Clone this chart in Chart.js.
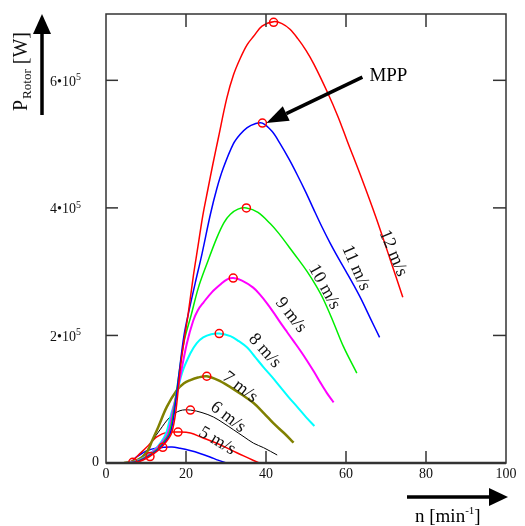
<!DOCTYPE html>
<html>
<head>
<meta charset="utf-8">
<script src="https://cdn.jsdelivr.net/npm/chart.js@4.4.0/dist/chart.umd.min.js"></script>
<style>
  html, body { margin: 0; padding: 0; background: #fff; }
  #wrap { width: 525px; height: 526px; }
</style>
</head>
<body>
<div id="wrap"><canvas id="chart" width="525" height="526"></canvas></div>
<script>
// rotor power over rotor speed, one curve per wind speed
// pairs are [n in 1/min, P in kW]
const curve12 = [[5.6,0],[8.1,2],[10.6,9],[13.1,20],[14.9,32],[16.4,47],[17.5,83],[18.6,150],[19.6,195],[20.5,232],[21.9,296],[23,340],[24.2,388],[25.5,430],[26.7,468],[28.1,510],[30.2,572],[31.9,609],[33.6,635],[35.3,656],[36.9,669],[39,685],[41.9,692],[44,689],[46,680],[48,665],[50,647],[52,625],[55.3,582],[58,543],[60.3,505],[64,445],[67.5,385],[71,320],[74.2,260]];
const curve11 = [[5.3,0],[7.8,2],[10.3,9],[12.8,20],[14.6,32],[16.1,47],[17.2,85],[18.3,142],[19.5,200],[20.8,240],[22.3,282],[24,328],[26.1,390],[27.7,430],[29.3,462],[31.8,500],[33.5,515],[35.3,526],[37.3,532],[39.1,533],[41.5,520],[43.6,500],[45.8,476],[47.8,452],[50,424],[51.9,398],[54,370],[56.1,344],[58.2,320],[60.3,297],[62,278],[63.7,258],[66,228],[68.4,197]];
const curve10 = [[5,0],[7.5,2],[10,9],[12.5,20],[14.3,32],[15.8,47],[17,85],[18.2,138],[19.5,190],[21.3,232],[23.1,275],[25.2,312],[27.7,353],[29.5,377],[31.1,390],[33,398],[35.1,400],[38,393],[41.1,375],[43.2,360],[45.5,341],[48,320],[50.3,300],[52.5,278],[54.4,256],[56.9,220],[59.4,182],[62.7,141]];
const curve9 = [[4.8,0],[7.3,2],[9.8,9],[12.2,20],[14,32],[15.5,47],[16.6,78],[17.5,105],[18.5,134],[20.2,187],[21.8,223],[23,240],[24.4,252],[26.5,268],[28.6,280],[30.3,288],[31.8,290],[34,286],[36.8,275],[38.5,264],[40.3,250],[42,235],[43.6,220],[45.3,205],[46.9,191],[48.6,176],[50.3,160],[52,143],[53.6,126],[55.2,110],[56.9,95]];
const curve8 = [[4.6,0],[7.1,2],[9.6,9],[12,20],[13.7,32],[15.1,48],[16.2,75],[17.3,98],[19,141],[21.1,172],[22.7,188],[24.3,197],[26.3,202],[28.3,203],[31.1,199],[33.2,191],[35.3,181],[37.3,166],[39.4,150],[41.5,135],[43.6,119],[45.7,103],[47.8,88],[50,72],[52.1,58]];
const curve7 = [[4.5,0],[7,3],[9,9],[10.5,20],[11.4,33],[13.1,57],[15.2,88],[17.7,114],[19.5,125],[21.1,130],[23,134],[25.2,136],[28,130],[31.1,119],[34,107],[36.9,94],[39.5,78],[41.9,62],[44.5,47],[46.9,32]];
const curve6 = [[4.3,0],[7,3],[9,10],[10.5,22],[11.4,33],[13.5,52],[16,72],[18.5,82],[21.1,83],[24,79],[26.9,72],[29.5,62],[31.9,52],[34.5,41],[36.9,31],[39.4,24],[42.8,12.5]];
const curve5 = [[4.5,0],[6.5,3],[8.1,12.5],[10.2,25],[11.5,34],[12.7,41],[15.2,48],[18,48.5],[21.1,47],[24,40],[26.9,33],[29.8,25],[32.7,16],[35.5,8],[38.3,0]];
const curve4 = [[5,0],[6.5,3],[7.5,9],[9,15],[10.5,20],[12.7,23.5],[14.2,24.5],[16.5,25],[18.5,23],[21,19.5],[23.5,15],[26,9.5],[28,4.5],[30,0]];

// maximum power points
const mppN = [6.7, 11, 14.2, 18, 21.1, 25.2, 28.3, 31.8, 35.1, 39.1, 41.9];
const mppP = [1, 10, 24.5, 48.5, 83, 136, 203, 290, 400, 533, 691];

const xTicks = [0, 20, 40, 60, 80, 100];
const yTicks = [0, 200, 400, 600];

const curves = [
  { data: curve12, color: '#ff0000', width: 1.5 },
  { data: curve11, color: '#0000ff', width: 1.5 },
  { data: curve10, color: '#00ee00', width: 1.5 },
  { data: curve9, color: '#ff00ff', width: 2 },
  { data: curve8, color: '#00ffff', width: 2 },
  { data: curve7, color: '#808000', width: 2.5 },
  { data: curve6, color: '#000000', width: 1 },
  { data: curve5, color: '#ff0000', width: 1.5 },
  { data: curve4, color: '#0000ff', width: 1.5 }
];

// text along the curves: anchor in data units, rotation in degrees
const curveLabels = [
  { text: '12 m/s', n: 71.8, p: 329, angle: 67 },
  { text: '11 m/s', n: 62.5, p: 306, angle: 66 },
  { text: '10 m/s', n: 54.6, p: 276, angle: 61 },
  { text: '9 m/s', n: 46.2, p: 232, angle: 52 },
  { text: '8 m/s', n: 39.7, p: 176, angle: 48 },
  { text: '7 m/s', n: 33.5, p: 119, angle: 38 },
  { text: '6 m/s', n: 30.5, p: 72, angle: 38 },
  { text: '5 m/s', n: 27.8, p: 34.5, angle: 31 }
];

const SERIF = '"Liberation Serif", "Times New Roman", serif';
Chart.defaults.font.family = SERIF;

const datasets = curves.map(c => ({
  data: c.data.map(([n, p]) => ({ x: n, y: p })),
  showLine: true,
  borderColor: c.color,
  borderWidth: c.width,
  pointRadius: 0,
  tension: 0.35,
  fill: false
}));
datasets.push({
  data: mppN.map((n, i) => ({ x: n, y: mppP[i] })),
  showLine: false,
  pointStyle: 'circle',
  pointRadius: 4,
  borderColor: '#ff0000',
  borderWidth: 1.5,
  backgroundColor: 'rgba(0,0,0,0)',
  order: -1
});

function line(ctx, x1, y1, x2, y2) {
  ctx.beginPath(); ctx.moveTo(x1, y1); ctx.lineTo(x2, y2); ctx.stroke();
}

function tri(ctx, pts) {
  ctx.beginPath();
  ctx.moveTo(pts[0][0], pts[0][1]);
  ctx.lineTo(pts[1][0], pts[1][1]);
  ctx.lineTo(pts[2][0], pts[2][1]);
  ctx.closePath(); ctx.fill();
}

const decor = {
  id: 'decor',
  afterDraw(chart) {
    const { ctx, chartArea: a, scales: { x, y } } = chart;
    ctx.save();

    // frame + inward ticks
    ctx.strokeStyle = '#333';
    ctx.lineWidth = 1.5;
    ctx.strokeRect(a.left, a.top, a.right - a.left, a.bottom - a.top);
    ctx.lineWidth = 2.5;
    line(ctx, a.left, a.bottom, a.right, a.bottom);
    ctx.lineWidth = 1.5;
    xTicks.slice(1, -1).forEach(v => {
      const px = x.getPixelForValue(v);
      line(ctx, px, a.bottom, px, a.bottom - 12);
      line(ctx, px, a.top, px, a.top + 13);
    });
    yTicks.slice(1).forEach(v => {
      const py = y.getPixelForValue(v);
      line(ctx, a.left, py, a.left + 12, py);
      line(ctx, a.right, py, a.right - 13, py);
    });

    // y tick labels like 6•10^5
    ctx.fillStyle = '#111';
    ctx.textBaseline = 'middle';
    yTicks.forEach(v => {
      const py = y.getPixelForValue(v);
      if (v === 0) {
        ctx.font = '14px ' + SERIF;
        ctx.textAlign = 'right';
        ctx.fillText('0', a.left - 7, py - 1);
        return;
      }
      ctx.textAlign = 'left';
      ctx.font = '10px ' + SERIF;
      const supW = ctx.measureText('5').width;
      ctx.font = '14px ' + SERIF;
      const main = (v / 100) + '\u202210';
      const mainW = ctx.measureText(main).width;
      const x0 = a.left - 25 - supW - mainW;
      ctx.fillText(main, x0, py + 1.5);
      ctx.font = '10px ' + SERIF;
      ctx.fillText('5', x0 + mainW, py - 3);
    });

    // y title: P_Rotor [W] with arrow
    ctx.save();
    ctx.translate(27, 111);
    ctx.rotate(-Math.PI / 2);
    ctx.textAlign = 'left';
    ctx.textBaseline = 'alphabetic';
    ctx.font = '20px ' + SERIF;
    ctx.fillText('P', 0, 0);
    let w = ctx.measureText('P').width + 1;
    ctx.font = '13px ' + SERIF;
    ctx.fillText('Rotor', w, 4);
    w += ctx.measureText('Rotor').width;
    ctx.font = '20px ' + SERIF;
    ctx.fillText(' [W]', w, 0);
    ctx.restore();

    ctx.fillStyle = '#000';
    ctx.strokeStyle = '#000';
    ctx.lineWidth = 3.5;
    line(ctx, 42, 115, 42, 30);
    tri(ctx, [[42, 14], [33, 34], [51, 34]]);

    // x title: n [min^-1] with arrow
    line(ctx, 407, 497, 492, 497);
    tri(ctx, [[508, 497], [489, 488], [489, 506]]);
    ctx.textAlign = 'left';
    ctx.textBaseline = 'alphabetic';
    ctx.font = '19px ' + SERIF;
    let tx = 415;
    ctx.fillText('n [min', tx, 522);
    tx += ctx.measureText('n [min').width;
    ctx.font = '11px ' + SERIF;
    ctx.fillText('-1', tx, 514);
    tx += ctx.measureText('-1').width;
    ctx.font = '19px ' + SERIF;
    ctx.fillText(']', tx, 522);

    // curve labels
    ctx.fillStyle = '#111';
    ctx.font = '18px ' + SERIF;
    ctx.textAlign = 'center';
    ctx.textBaseline = 'middle';
    curveLabels.forEach(l => {
      ctx.save();
      ctx.translate(x.getPixelForValue(l.n), y.getPixelForValue(l.p));
      ctx.rotate(l.angle * Math.PI / 180);
      ctx.fillText(l.text, 0, 0);
      ctx.restore();
    });

    // MPP pointer to the 11 m/s maximum
    const tipX = x.getPixelForValue(mppN[9]) + 4;
    const tipY = y.getPixelForValue(mppP[9]);
    const tailX = tipX + 96, tailY = tipY - 46;
    const len = Math.hypot(tailX - tipX, tailY - tipY);
    const ux = (tailX - tipX) / len, uy = (tailY - tipY) / len;
    const bx = tipX + ux * 22, by = tipY + uy * 22;
    ctx.fillStyle = '#000';
    ctx.lineWidth = 3.5;
    line(ctx, bx, by, tailX, tailY);
    tri(ctx, [[tipX, tipY], [bx - uy * 8, by + ux * 8], [bx + uy * 8, by - ux * 8]]);
    ctx.font = '19px ' + SERIF;
    ctx.textAlign = 'left';
    ctx.textBaseline = 'alphabetic';
    ctx.fillText('MPP', tailX + 7, tailY + 4);

    ctx.restore();
  }
};

new Chart(document.getElementById('chart').getContext('2d'), {
  type: 'scatter',
  data: { datasets: datasets },
  options: {
    responsive: false,
    animation: false,
    layout: { padding: { top: 14, right: 19, left: 0, bottom: 0 } },
    plugins: { legend: { display: false }, tooltip: { enabled: false } },
    scales: {
      x: {
        type: 'linear',
        min: 0,
        max: 100,
        afterBuildTicks: s => { s.ticks = xTicks.map(v => ({ value: v })); },
        afterFit: s => { s.height = 63; },
        grid: { display: false, drawTicks: false },
        border: { display: false },
        ticks: { color: '#111', padding: 3, font: { size: 14 } }
      },
      y: {
        type: 'linear',
        min: 0,
        max: 704,
        afterBuildTicks: s => { s.ticks = yTicks.map(v => ({ value: v })); },
        afterFit: s => { s.width = 106; },
        grid: { display: false, drawTicks: false },
        border: { display: false },
        ticks: { display: false }
      }
    }
  },
  plugins: [decor]
});
</script>
</body>
</html>
